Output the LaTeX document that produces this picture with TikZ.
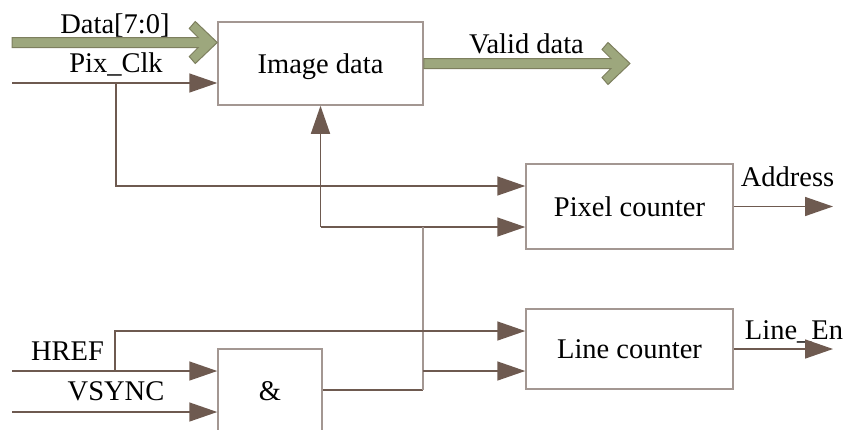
\documentclass[tikz,border=0pt]{standalone}
\usepackage{fontspec}
\setmainfont{Liberation Serif}
\newfontfamily\tnr{Liberation Serif}
\usetikzlibrary{arrows.meta,calc}
\definecolor{wirebrown}{HTML}{6E5A50}
\definecolor{boxline}{HTML}{A39792}
\definecolor{busfill}{HTML}{9DA77D}
\definecolor{busline}{HTML}{7D7F5E}
\newcommand\busarrow[2]{%
  \path[bus] let \p1=(#1), \p2=(#2) in
   (\x1,\y2+5pt) -- (\x2-19pt,\y2+5pt) -- (\x2-28pt,\y2+14pt) -- (\x2-22pt,\y2+21pt)
   -- (\x2,\y2) -- (\x2-22pt,\y2-21pt) -- (\x2-28pt,\y2-14pt) -- (\x2-19pt,\y2-5pt)
   -- (\x1,\y2-5pt) -- cycle;}
\begin{document}
\begin{tikzpicture}[x=1pt,y=-1pt,
  every node/.style={font=\tnr\fontsize{28.5}{34}\selectfont},
  blk/.style={draw=boxline, line width=1.5pt, rectangle, inner sep=0pt, text height=19pt, text depth=0pt},
  sig/.style={draw=wirebrown, line width=1.5pt, -{Triangle[length=28pt,width=19pt,fill=wirebrown]}},
  wire/.style={draw=wirebrown, line width=1.5pt},
  lwire/.style={draw=boxline, line width=1.5pt},
  bus/.style={fill=busfill, draw=busline, line width=1pt, line join=miter},
  lbl/.style={anchor=base, inner sep=0pt}]
\useasboundingbox (0,0) rectangle (858,429);
% blocks
\node[blk, minimum width=205pt, minimum height=83pt] (img) at (320.5,63.5) {Image data};
\node[blk, minimum width=207pt, minimum height=85pt] (pc) at (629.5,206.5) {Pixel counter};
\node[blk, minimum width=207pt, minimum height=80pt] (lc) at (629.5,349) {Line counter};
\node[blk, minimum width=104pt, minimum height=111pt] (and) at (270,404.5) {};
\node[lbl] (andtxt) at (270,400) {\&};
% labels
\node[lbl] (ldata) at (115,33) {Data[7:0]};
\node[lbl] (lpix) at (116,72) {Pix\_Clk};
\node[lbl] (lvalid) at (526.5,53) {Valid data};
\node[lbl] (laddr) at (787.5,186) {Address};
\node[lbl] (lline) at (794,339) {Line\_En};
\node[lbl] (lhref) at (67.5,360) {HREF};
\node[lbl] (lvs) at (116,400) {VSYNC};
% coordinates
\coordinate (datain) at (12,42.5);
\coordinate (datatip) at (datain -| img.west);
\coordinate (validtip) at (630,63.5);
\coordinate (pixin) at (12,83);
\coordinate (pixbr) at (116,83);
\coordinate (pcin1) at (pc.west |- 0,186);
\coordinate (pcin2) at (pc.west |- 0,227);
\coordinate (j1) at (img.south |- pcin2);
\coordinate (j2) at (423,227);
\coordinate (j3) at (423,371);
\coordinate (j4) at (423,390);
\coordinate (andout) at (and.east |- 0,390);
\coordinate (lcin1) at (lc.west |- 0,331);
\coordinate (lcin2) at (lc.west |- 0,371);
\coordinate (hrefin) at (12,371);
\coordinate (hrefbr) at (115,371);
\coordinate (vsin) at (12,412);
\coordinate (addrout) at (833,206.5);
\coordinate (lineout) at (833,349);
% buses
\busarrow{datain}{datatip}
\busarrow{img.east}{validtip}
% wires
\draw[sig] (pixin) -- (pixin -| img.west);
\draw[sig] (pixbr) |- (pcin1);
\draw[sig] (j1) -- (img.south);
\draw[sig] (j1) -- (pcin2);
\draw[wire] (andout) -- (j4);
\draw[lwire] (j4) -- (j2);
\draw[sig] (j3) -- (lcin2);
\draw[sig] (hrefin) -- (hrefin -| and.west);
\draw[sig] (hrefbr) |- (lcin1);
\draw[sig] (vsin) -- (vsin -| and.west);
\draw[sig] (pc.east) -- (addrout);
\draw[sig] (lc.east) -- (lineout);
\end{tikzpicture}
\end{document}
